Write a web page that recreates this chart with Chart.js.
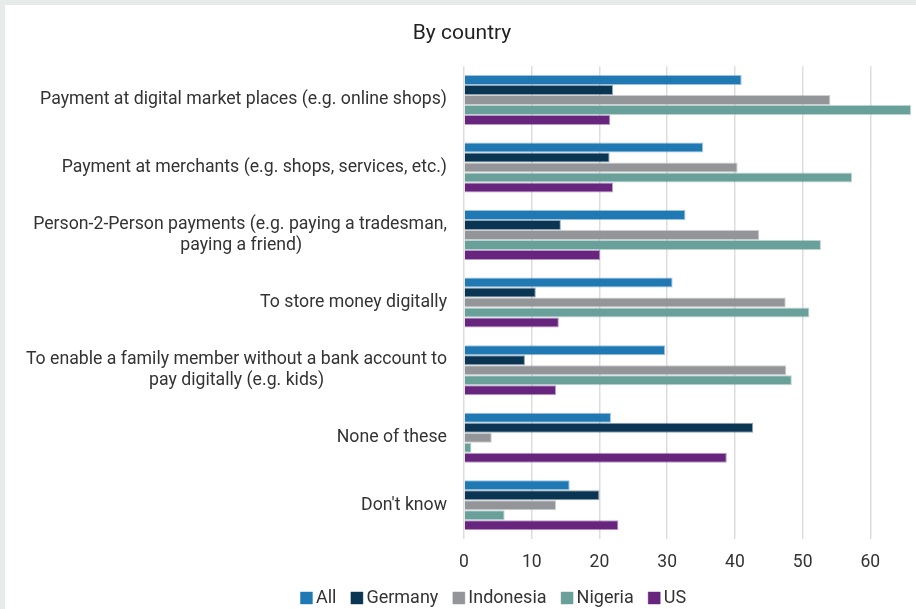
<!DOCTYPE html>
<html>
<head>
<meta charset="utf-8">
<script src="https://cdn.jsdelivr.net/npm/chart.js@4.4.1/dist/chart.umd.min.js"></script>
<style>
  html, body { margin: 0; padding: 0; background: #e7ecea; }
  #wrap { position: absolute; left: 5px; top: 5px; width: 911px; height: 604px; background: #fff; }
</style>
</head>
<body>
<div id="wrap"><canvas id="chart"></canvas></div>
<script>
// chart data
const categories = [
  ['Payment at digital market places (e.g. online shops)'],
  ['Payment at merchants (e.g. shops, services, etc.)'],
  ['Person-2-Person payments (e.g. paying a tradesman,', 'paying a friend)'],
  ['To store money digitally'],
  ['To enable a family member without a bank account to', 'pay digitally (e.g. kids)'],
  ['None of these'],
  ["Don't know"]
];
const seriesNames = ['All', 'Germany', 'Indonesia', 'Nigeria', 'US'];
const allValues       = [41, 35.3, 32.7, 30.8, 29.7, 21.7, 15.6];
const germanyValues   = [22, 21.5, 14.3, 10.6, 9.0, 42.7, 20];
const indonesiaValues = [54.1, 40.4, 43.6, 47.5, 47.6, 4.1, 13.6];
const nigeriaValues   = [66, 57.3, 52.7, 51.0, 48.4, 1.1, 6.0];
const usValues        = [21.6, 22.0, 20.1, 14.0, 13.6, 38.8, 22.8];
const xTicks = [0, 10, 20, 30, 40, 50, 60];

const colors = ['#2179b4', '#0b3653', '#939598', '#6aa09a', '#67257e'];
const borders = ['rgba(33,121,180,0.45)', 'rgba(11,54,83,0.45)', 'rgba(147,149,152,0.45)', 'rgba(106,160,154,0.45)', 'rgba(103,37,126,0.45)'];
const values = [allValues, germanyValues, indonesiaValues, nigeriaValues, usValues];

const FONT = 'Roboto';
const TEXT = '#333333';
const LABEL_SIZE = 17.7;

// center the shorter line under the longer one (labels are drawn right-aligned)
const mctx = document.createElement('canvas').getContext('2d');
mctx.font = LABEL_SIZE + 'px ' + FONT;
function centerLines(lines) {
  if (lines.length < 2) return lines[0];
  const widths = lines.map(l => mctx.measureText(l).width);
  const widest = Math.max(...widths);
  const sp = mctx.measureText(' ').width;
  return lines.map((l, i) => l + ' '.repeat(Math.round((widest - widths[i]) / 2 / sp)));
}

// move legend and title to where they sit in the original
const nudge = {
  id: 'nudge',
  afterLayout(chart) {
    const lg = chart.legend;
    const dy = 564 - lg.top;
    lg.top += dy; lg.bottom += dy;
    lg.left += 38; lg.right += 38;
    chart.titleBlock.left += 4;
    chart.titleBlock.right += 4;
  }
};

const ctx = document.getElementById('chart').getContext('2d');
new Chart(ctx, {
  type: 'bar',
  data: {
    labels: categories.map(centerLines),
    datasets: seriesNames.map((name, i) => ({
      label: name,
      data: values[i],
      backgroundColor: colors[i],
      borderColor: borders[i],
      borderWidth: 1,
      categoryPercentage: 0.74,
      barPercentage: 1.0
    }))
  },
  options: {
    indexAxis: 'y',
    responsive: true,
    maintainAspectRatio: false,
    animation: false,
    layout: { padding: { left: 0, right: 5, top: 0, bottom: -25 } },
    plugins: {
      title: {
        display: true,
        text: 'By country',
        color: '#222',
        font: { family: FONT, size: 21, weight: 'normal' },
        padding: { top: 16, bottom: 20 }
      },
      legend: {
        position: 'bottom',
        labels: {
          color: TEXT,
          font: { family: FONT, size: 18 },
          usePointStyle: true,
          pointStyle: 'rect',
          boxWidth: 1,
          boxHeight: 12,
          padding: 20
        }
      },
      tooltip: { enabled: false }
    },
    scales: {
      x: {
        min: 0,
        max: 66,
        afterBuildTicks: scale => { scale.ticks = xTicks.map(v => ({ value: v })); },
        grid: { color: '#dddddd', lineWidth: 1.5, drawTicks: false },
        border: { display: false },
        ticks: { color: TEXT, font: { family: FONT, size: 17.5 }, padding: 13 }
      },
      y: {
        afterFit: scale => { scale.width = 459; },
        grid: { display: false, drawTicks: false },
        border: { display: false },
        ticks: { color: TEXT, font: { family: FONT, size: LABEL_SIZE }, padding: 17, autoSkip: false }
      }
    }
  },
  plugins: [nudge]
});
</script>
</body>
</html>
